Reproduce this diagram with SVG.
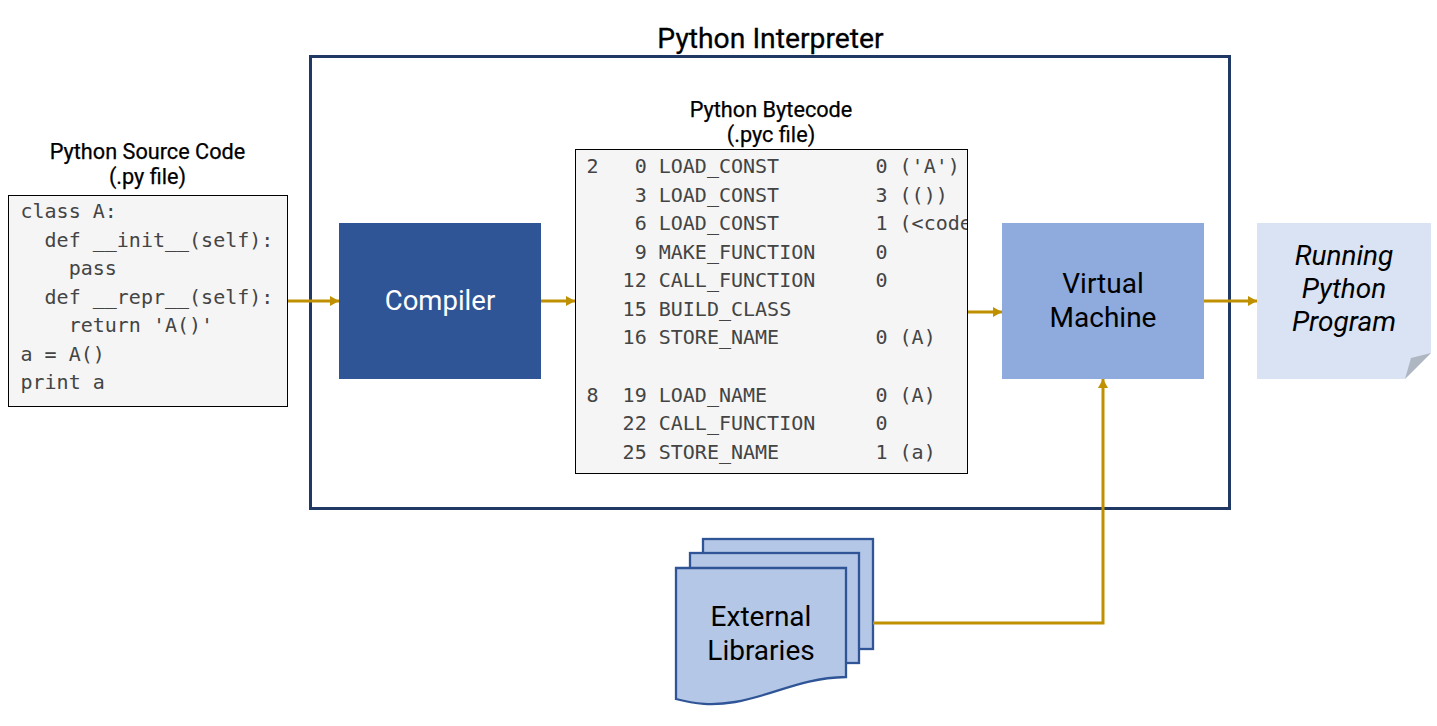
<svg xmlns="http://www.w3.org/2000/svg" width="1437" height="726" viewBox="0 0 1437 726">
<style>
text{font-family:Roboto,"Liberation Sans",sans-serif;fill:#000;text-anchor:middle}
.code{font-family:"DejaVu Sans Mono","Liberation Mono",monospace;font-size:20px;fill:#444;text-anchor:start;white-space:pre}
.cap{font-size:21.700px;stroke:#000;stroke-width:.25px}
.big{font-size:28px}
.box{fill:#f5f5f5;stroke:#000;stroke-width:1}
.conn{fill:none;stroke:#bf9000;stroke-width:3}
.lib{fill:#b4c7e7;stroke:#2f5597;stroke-width:2.300}
</style>
<defs>
<marker id="arrow" markerUnits="userSpaceOnUse" markerWidth="10" markerHeight="12" refX="9" refY="6" orient="auto"><path d="M0 1L9 6L0 11Z" fill="#bf9000"/></marker>
<clipPath id="bcClip"><rect x="576" y="150" width="391" height="323"/></clipPath>
</defs>
<g id="interpreter">
<rect x="310.500" y="56.500" width="919" height="452" fill="none" stroke="#203864" stroke-width="3"/>
<text x="770.500" y="48" font-size="28.300" stroke="#000" stroke-width=".3">Python Interpreter</text>
</g>
<g id="source">
<text class="cap" x="147.500" y="159">Python Source Code</text>
<text class="cap" x="147.500" y="184">(.py file)</text>
<rect class="box" x="8.500" y="195.500" width="279" height="211"/>
<text class="code" x="20.500" y="218">class A:</text>
<text class="code" x="20.500" y="247">  def __init__(self):</text>
<text class="code" x="20.500" y="275">    pass</text>
<text class="code" x="20.500" y="304">  def __repr__(self):</text>
<text class="code" x="20.500" y="332">    return 'A()'</text>
<text class="code" x="20.500" y="361">a = A()</text>
<text class="code" x="20.500" y="389">print a</text>
</g>
<g id="compiler">
<rect x="339" y="223" width="202" height="156" fill="#2f5597"/>
<text x="440" y="310" font-size="27.500" style="fill:#fff">Compiler</text>
</g>
<g id="bytecode">
<text class="cap" x="771" y="117">Python Bytecode</text>
<text class="cap" x="771" y="142">(.pyc file)</text>
<rect class="box" x="575.500" y="149.500" width="392" height="324"/>
<g clip-path="url(#bcClip)">
<text class="code" x="586.500" y="173">2   0 LOAD_CONST        0 ('A')</text>
<text class="code" x="586.500" y="202">    3 LOAD_CONST        3 (())</text>
<text class="code" x="586.500" y="230">    6 LOAD_CONST        1 (&lt;code</text>
<text class="code" x="586.500" y="259">    9 MAKE_FUNCTION     0</text>
<text class="code" x="586.500" y="287">   12 CALL_FUNCTION     0</text>
<text class="code" x="586.500" y="316">   15 BUILD_CLASS</text>
<text class="code" x="586.500" y="344">   16 STORE_NAME        0 (A)</text>
<text class="code" x="586.500" y="402">8  19 LOAD_NAME         0 (A)</text>
<text class="code" x="586.500" y="430">   22 CALL_FUNCTION     0</text>
<text class="code" x="586.500" y="459">   25 STORE_NAME        1 (a)</text>
</g>
</g>
<g id="vm">
<rect x="1002" y="223" width="202" height="156" fill="#8faadc"/>
<text class="big" x="1103" y="293">Virtual</text>
<text class="big" x="1103" y="327">Machine</text>
</g>
<g id="program">
<path d="M1257 223H1431V353L1405 379H1257Z" fill="#dae3f3"/>
<path d="M1431 353L1411 358L1405 379Z" fill="#aeb6c2"/>
<text class="big" x="1344" y="265" font-style="italic">Running</text>
<text class="big" x="1344" y="298" font-style="italic">Python</text>
<text class="big" x="1344" y="331" font-style="italic">Program</text>
</g>
<g id="libraries">
<rect class="lib" x="703" y="539" width="170" height="110"/>
<rect class="lib" x="690" y="553" width="169" height="110"/>
<path class="lib" d="M676 568H846V677C800 678 775 695 735 702C712 706 695 704 676 699Z"/>
<text class="big" x="761" y="626">External</text>
<text class="big" x="761" y="660">Libraries</text>
</g>
<g id="connectors">
<path class="conn" d="M288 301H339" marker-end="url(#arrow)"/>
<path class="conn" d="M541 301H575" marker-end="url(#arrow)"/>
<path class="conn" d="M968 312H1002" marker-end="url(#arrow)"/>
<path class="conn" d="M1204 301H1257" marker-end="url(#arrow)"/>
<path class="conn" d="M873 623H1103V379" marker-end="url(#arrow)"/>
</g>
</svg>
